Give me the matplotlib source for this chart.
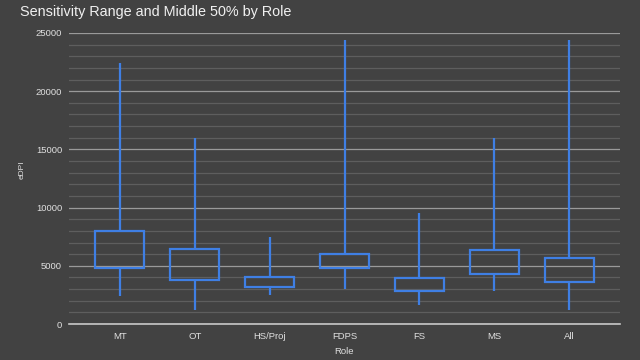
import numpy as np
import matplotlib.pyplot as plt
from matplotlib.ticker import MultipleLocator

roles = ['MT', 'OT', 'HS/Proj', 'FDPS', 'FS', 'MS', 'All']
low = [2400, 1200, 2470, 3000, 1610, 2820, 1200]
q1 = [4800, 3790, 3200, 4800, 2820, 4310, 3590]
q3 = [8000, 6440, 4050, 6000, 3990, 6380, 5630]
high = [22400, 16000, 7470, 24400, 9540, 16000, 24400]

BG = '#424242'
BLUE = '#3f7fe4'
TXT = '#e0e0e0'

plt.rcParams['font.family'] = ['Liberation Sans', 'DejaVu Sans']

fig = plt.figure(figsize=(6.4, 3.6), dpi=100, facecolor=BG)
ax = fig.add_axes([69 / 640, 1 - 324 / 360, 551 / 640, 291 / 360])
ax.set_facecolor(BG)

x = np.arange(len(roles))
q1a, q3a = np.array(q1), np.array(q3)
ax.bar(x, q3a - q1a, bottom=q1a, width=0.655, facecolor='none',
       edgecolor=BLUE, linewidth=1.6, zorder=3)
ax.vlines(x, low, q1, color=BLUE, linewidth=1.6, zorder=3)
ax.vlines(x, q3, high, color=BLUE, linewidth=1.6, zorder=3)

ax.set_xlim(-0.68, len(roles) - 1 + 0.68)
ax.set_ylim(0, 25000)
ax.yaxis.set_major_locator(MultipleLocator(5000))
ax.yaxis.set_minor_locator(MultipleLocator(1000))
ax.grid(which='major', axis='y', color='#9a9a9a', linewidth=0.9, zorder=1)
ax.grid(which='minor', axis='y', color='#5e5e5e', linewidth=0.9, zorder=1)
for s in ['top', 'right', 'left']:
    ax.spines[s].set_visible(False)
ax.spines['bottom'].set_color('#c8c8c8')
ax.spines['bottom'].set_linewidth(1.2)

ax.set_xticks(x)
ax.set_xticklabels(roles)
ax.tick_params(axis='both', which='both', length=0, colors=TXT, labelsize=6.8)
ax.tick_params(axis='y', pad=5)
ax.tick_params(axis='x', pad=6)

fig.text(344 / 640, 1 - 352 / 360, 'Role', color=TXT, fontsize=6.8,
         ha='center', va='center')
fig.text(22 / 640, 1 - 170 / 360, 'eDPI', color=TXT, fontsize=6,
         ha='center', va='center', rotation=90)

fig.text(20 / 640, 1 - 12 / 360, 'Sensitivity Range and Middle 50% by Role',
         color='#f0f0f0', fontsize=10.4, ha='left', va='center')

fig.savefig('out.png', dpi=100, facecolor=BG)
